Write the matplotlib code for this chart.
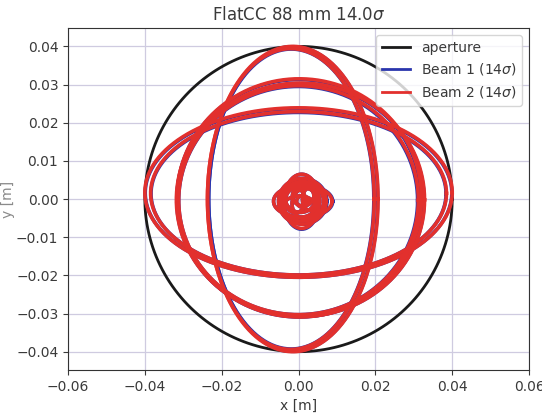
import numpy as np
import matplotlib
matplotlib.use("Agg")
import matplotlib.pyplot as plt

# ---- data ----
aperture_radius = 0.040

# beam 2 (red) envelope ellipses: centre x, centre y, semi-axis x, semi-axis y
b2_cx = [-0.0015, -0.0020, 0.0002, 0.0005, 0.0000, 0.0000, 0.0000,
         0.0011, 0.0008, 0.0010, 0.0010, 0.0005, 0.0018, 0.0002, 0.0012,
         -0.0008, 0.0010, 0.0030]
b2_cy = [0.0000, 0.0000, 0.0003, -0.0002, -0.0003, 0.0017, 0.0015,
         -0.0006, -0.0006, -0.0006, -0.0006, 0.0003, -0.0012, -0.0020, 0.0008,
         -0.0004, -0.0006, 0.0000]
b2_a = [0.0222, 0.0217, 0.0318, 0.0323, 0.0312, 0.0400, 0.0385,
        0.0076, 0.0046, 0.0062, 0.0055, 0.0040, 0.0035, 0.0042, 0.0028,
        0.0026, 0.0015, 0.0020]
b2_b = [0.0400, 0.0394, 0.0312, 0.0306, 0.0300, 0.0222, 0.0214,
        0.0042, 0.0071, 0.0060, 0.0052, 0.0038, 0.0040, 0.0028, 0.0026,
        0.0032, 0.0015, 0.0030]

# beam 1 (blue) envelope ellipses
b1_cx = [-0.0014, -0.0019, 0.0001, 0.0005, -0.0001, 0.0000, 0.0000,
         0.0012, 0.0008, 0.0011, 0.0010, 0.0005, 0.0018, 0.0002, 0.0012,
         -0.0008, 0.0010, 0.0030]
b1_cy = [0.0000, 0.0000, 0.0002, -0.0003, -0.0004, 0.0016, 0.0014,
         -0.0006, -0.0007, -0.0006, -0.0006, 0.0003, -0.0012, -0.0020, 0.0008,
         -0.0004, -0.0006, 0.0000]
b1_a = [0.0220, 0.0215, 0.0317, 0.0322, 0.0311, 0.0399, 0.0384,
        0.0077, 0.0046, 0.0063, 0.0055, 0.0040, 0.0035, 0.0042, 0.0028,
        0.0026, 0.0015, 0.0020]
b1_b = [0.0399, 0.0393, 0.0311, 0.0305, 0.0299, 0.0221, 0.0213,
        0.0042, 0.0072, 0.0060, 0.0052, 0.0038, 0.0040, 0.0028, 0.0026,
        0.0032, 0.0015, 0.0030]

x_ticks = [-0.06, -0.04, -0.02, 0.00, 0.02, 0.04, 0.06]
y_ticks = [-0.04, -0.03, -0.02, -0.01, 0.00, 0.01, 0.02, 0.03, 0.04]

title = r"FlatCC 88 mm 14.0$\sigma$"
labels = ["aperture", r"Beam 1 (14$\sigma$)", r"Beam 2 (14$\sigma$)"]

# ---- plot ----
RED = "#e2302d"
BLUE = "#2a35ad"
TXT = "#3a3a3a"

fig = plt.figure(figsize=(5.42, 4.15), dpi=100)
ax = fig.add_axes([0.1255, 0.1084, 0.8506, 0.824])

t = np.linspace(0, 2 * np.pi, 400)
ax.plot(aperture_radius * np.cos(t), aperture_radius * np.sin(t),
        color="#1a1a1a", lw=2.0, label=labels[0], zorder=3)

for i, (cx, cy, a, b) in enumerate(zip(b1_cx, b1_cy, b1_a, b1_b)):
    ax.plot(cx + a * np.cos(t), cy + b * np.sin(t), color=BLUE, lw=2.6,
            label=labels[1] if i == 0 else None, zorder=4)

for i, (cx, cy, a, b) in enumerate(zip(b2_cx, b2_cy, b2_a, b2_b)):
    ax.plot(cx + a * np.cos(t), cy + b * np.sin(t), color=RED, lw=2.6,
            label=labels[2] if i == 0 else None, zorder=5)

ax.set_xlim(-0.06, 0.06)
ax.set_ylim(-0.0448, 0.0448)
ax.set_xticks(x_ticks)
ax.set_yticks(y_ticks)
ax.grid(True, color="#cfcbe0", lw=0.9)
ax.set_axisbelow(True)
ax.tick_params(labelsize=10, colors=TXT)
for s in ax.spines.values():
    s.set_color("#333333")

ax.set_title(title, fontsize=12, color=TXT)
ax.set_xlabel("x [m]", fontsize=10, color=TXT)
ax.set_ylabel("y [m]", fontsize=10, color="#8a8a8a", labelpad=0.5)

leg = ax.legend(loc="upper right", fontsize=10)
for line in leg.get_lines():
    line.set_linewidth(2.0)
for txt in leg.get_texts():
    txt.set_color(TXT)

fig.savefig("out.png", dpi=100)
